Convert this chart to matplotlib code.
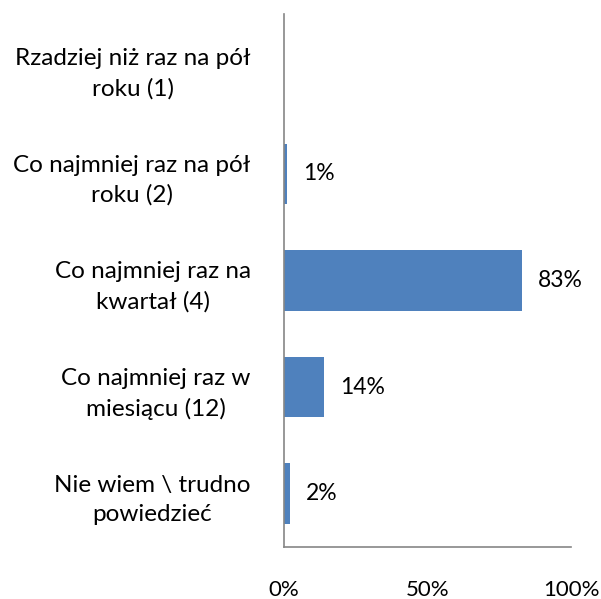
import matplotlib.pyplot as plt

plt.rcParams['font.family'] = ['Lato', 'DejaVu Sans']

categories = [
    "Rzadziej niż raz na pół\nroku (1)",
    "Co najmniej raz na pół\nroku (2)",
    "Co najmniej raz na\nkwartał (4)",
    "Co najmniej raz w\nmiesiącu (12)",
    "Nie wiem \\ trudno\npowiedzieć",
]
values = [0, 1, 83, 14, 2]
xticks = [0, 50, 100]

fig = plt.figure(figsize=(6.01, 5.99), dpi=100)
ax = fig.add_axes([0.4726, 0.0868, 0.4775, 0.8898])

pos = list(range(len(categories)))[::-1]
bars = ax.barh(pos, values, height=0.57, color="#4F81BD")

for b, v in zip(bars, values):
    if v > 0:
        ax.text(b.get_width() + 5.5, b.get_y() + b.get_height() / 2, f"{v}%",
                va="center", ha="left", fontsize=16.5)

ax.set_xlim(0, 100)
ax.set_ylim(-0.5, len(categories) - 0.5)
ax.set_xticks(xticks)
ax.set_xticklabels([f"{t}%" for t in xticks], fontsize=16)
ax.set_yticks(pos)
ax.set_yticklabels(categories, fontsize=17.5, ha="right",
                   multialignment="center", linespacing=1.5)
ax.tick_params(axis="y", length=0, pad=24)
ax.tick_params(axis="x", length=0, pad=24)

for s in ["top", "right"]:
    ax.spines[s].set_visible(False)
for s in ["left", "bottom"]:
    ax.spines[s].set_color("#868686")
    ax.spines[s].set_linewidth(1.2)

fig.savefig("out.png", dpi=100)
